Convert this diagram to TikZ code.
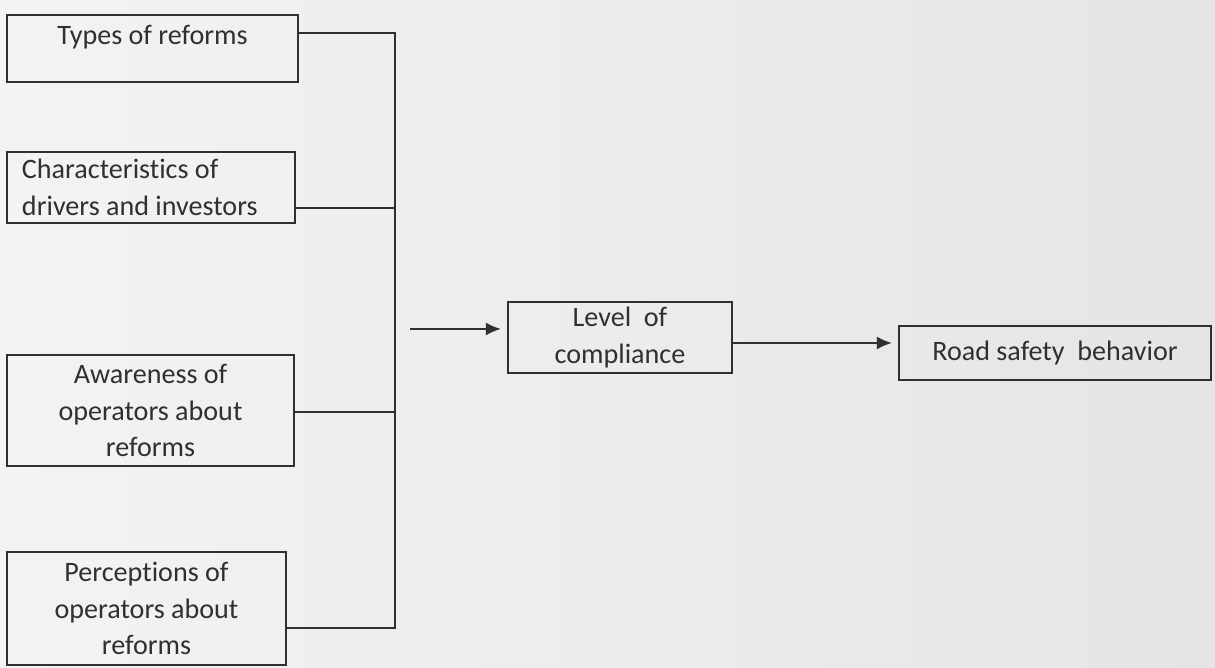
\documentclass[tikz,border=0pt]{standalone}
\usepackage{fontspec}
\setmainfont{Carlito}[Ligatures={NoCommon}]
\usetikzlibrary{arrows.meta}
\definecolor{pagebgl}{RGB}{243,243,243}
\definecolor{pagebgr}{RGB}{229,229,229}
\definecolor{ink}{RGB}{48,48,48}
\begin{document}
\begin{tikzpicture}[>={Latex[length=1.5mm,width=1.3mm]},
    box/.style={draw=ink, line width=0.6pt, text=ink, inner sep=0pt, align=center,
        font=\fontsize{8}{10.4}\selectfont},
    wire/.style={draw=ink, line width=0.6pt}]
    \useasboundingbox (0,0) rectangle (12.15,6.68);
    \shade[left color=pagebgl, right color=pagebgr] (0,0) rectangle (12.15,6.68);

    \node[box, minimum width=2.91cm, minimum height=0.67cm, inner ysep=0.07cm,
        text height=0.23cm, text depth=0.30cm] (types) at (1.525,6.195) {Types of reforms};
    \node[box, minimum width=2.88cm, minimum height=0.71cm, inner xsep=0.15cm,
        text width=2.58cm, align=flush left] (traits) at (1.51,4.805) {Characteristics of\\drivers and investors};
    \node[box, minimum width=2.87cm, minimum height=1.11cm] (aware) at (1.505,2.575) {Awareness of\\operators about\\reforms};
    \node[box, minimum width=2.79cm, minimum height=1.13cm] (percep) at (1.465,0.595) {Perceptions of\\operators about\\reforms};
    \node[box, minimum width=2.24cm, minimum height=0.71cm] (level) at (6.20,3.305) {Level\ \ of\\compliance};
    \node[box, minimum width=3.12cm, minimum height=0.54cm] (road) at (10.55,3.15) {Road safety\ \ behavior};

    \coordinate (bustop) at (3.95,6.35);
    \coordinate (tapA) at (3.95,4.60);
    \coordinate (tapB) at (3.95,2.56);
    \coordinate (busbot) at (3.95,0.40);
    \coordinate (busout) at (4.10,3.39);
    \coordinate (levelout) at ([yshift=-0.055cm]level.east);

    \draw[wire] (types.east |- bustop) -- (bustop) -- (busbot) -- (percep.east |- busbot);
    \draw[wire] (traits.east |- tapA) -- (tapA);
    \draw[wire] (aware.east |- tapB) -- (tapB);

    \draw[wire, ->, shorten >=0.06cm] (busout) -- (level.west |- busout);
    \draw[wire, ->, shorten >=0.06cm] (levelout) -- (road.west |- levelout);
\end{tikzpicture}
\end{document}
